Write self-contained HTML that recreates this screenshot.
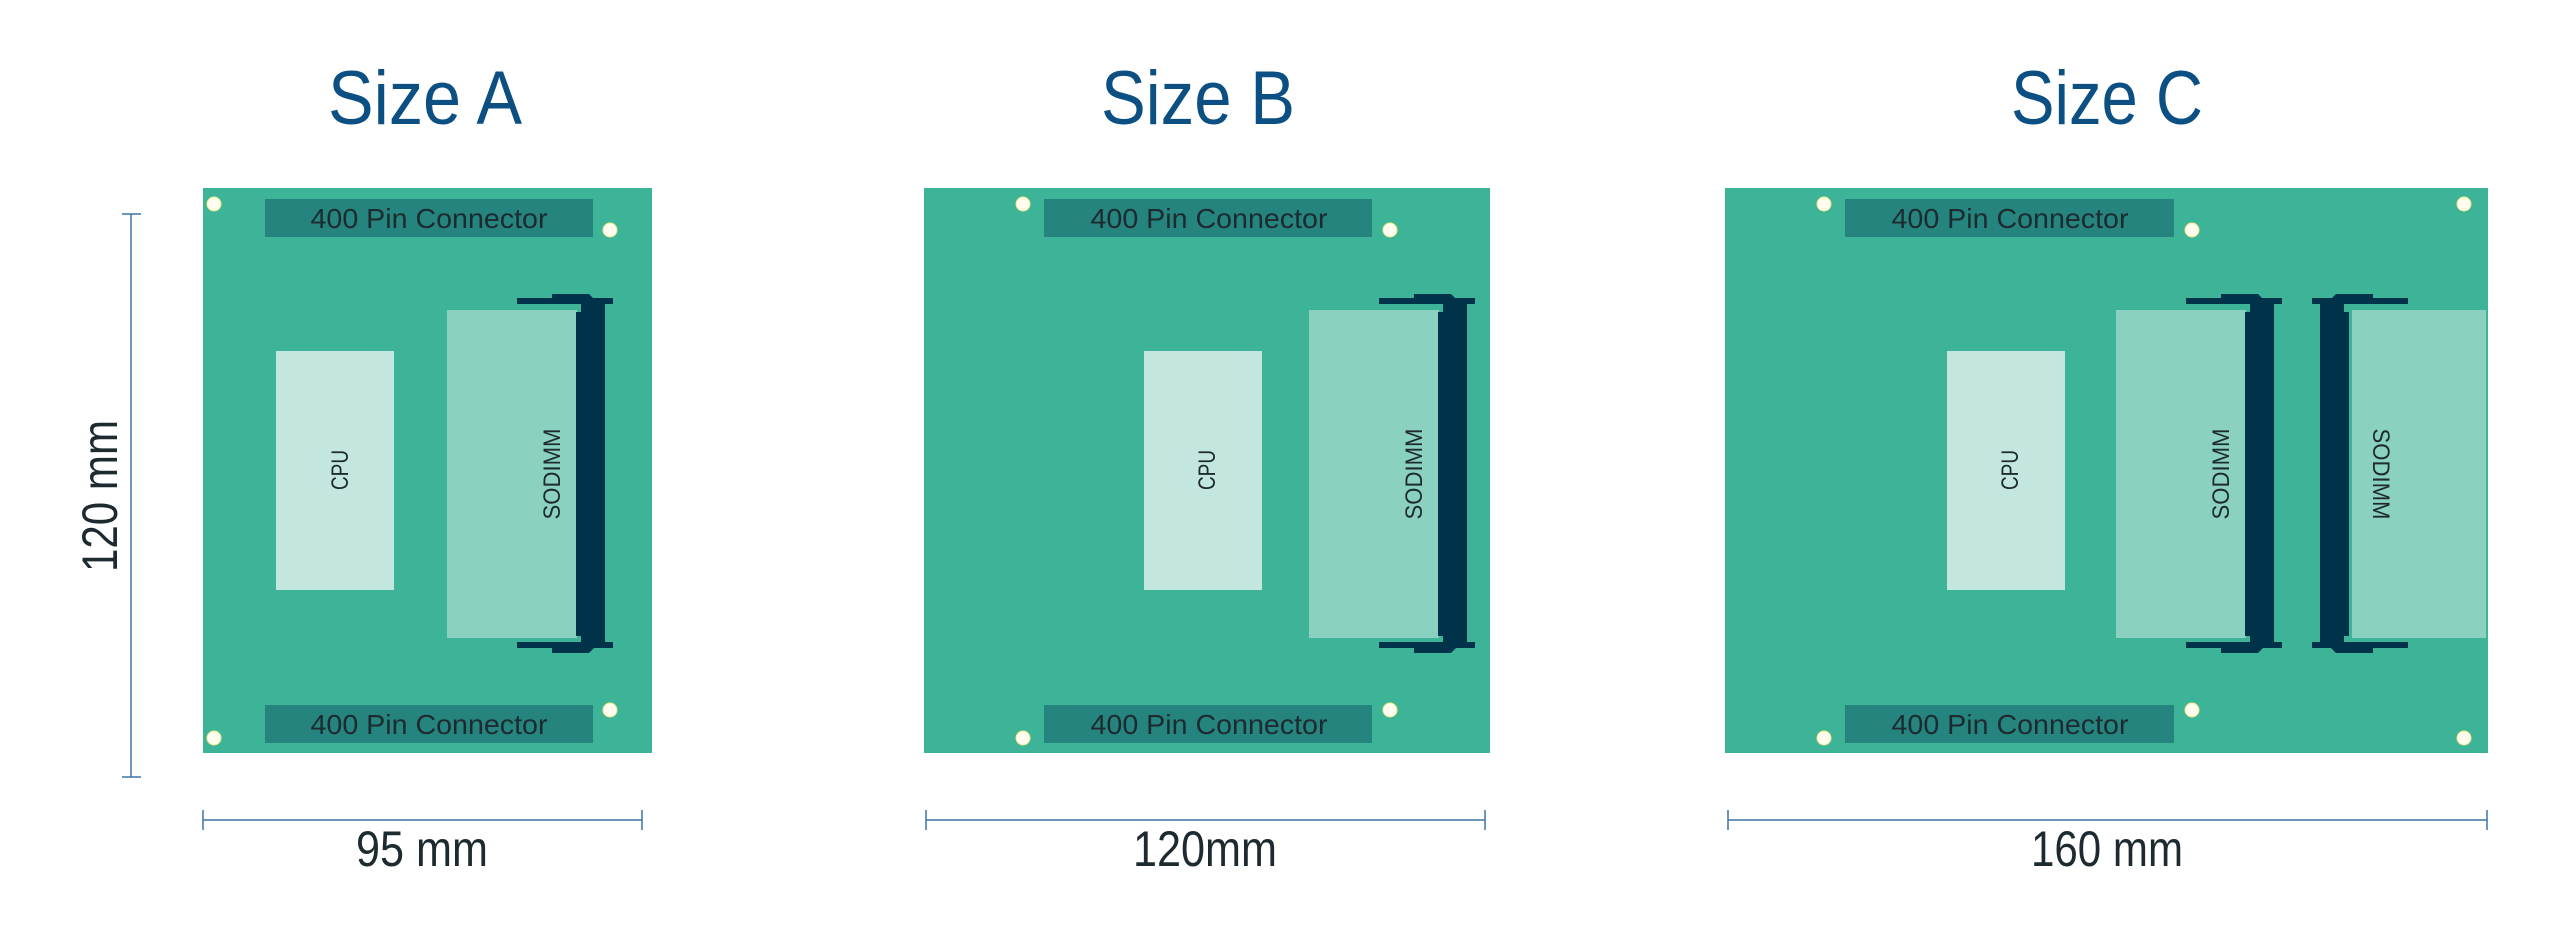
<!DOCTYPE html>
<html><head><meta charset="utf-8"><style>html,body{margin:0;padding:0;background:#fff}svg{display:block}</style></head>
<body>
<svg width="2561" height="941" viewBox="0 0 2561 941" xmlns="http://www.w3.org/2000/svg" font-family="Liberation Sans, sans-serif">
<defs>
<g id="sock">
  <rect x="581" y="298" width="24" height="350" fill="#003349"/>
  <rect x="576" y="312" width="6" height="324" fill="#003349"/>
  <rect x="517" y="298" width="96" height="6" fill="#003349"/>
  <polygon points="552,294 589,294 594,299 594,304 552,304" fill="#003349"/>
  <rect x="517" y="642" width="96" height="6" fill="#003349"/>
  <polygon points="552,642 594,642 594,648 589,653 552,653" fill="#003349"/>
</g>
</defs>
<g fill="#0b4f83" font-size="76">
<text x="425" y="124" text-anchor="middle" textLength="194" lengthAdjust="spacingAndGlyphs">Size A</text>
<text x="1198" y="124" text-anchor="middle" textLength="194" lengthAdjust="spacingAndGlyphs">Size B</text>
<text x="2107" y="124" text-anchor="middle" textLength="192" lengthAdjust="spacingAndGlyphs">Size C</text>
</g>
<rect x="203" y="188" width="449" height="565" fill="#3db497"/>
<rect x="924" y="188" width="566" height="565" fill="#3db497"/>
<rect x="1725" y="188" width="763" height="565" fill="#3db497"/>
<g fill="#25847d">
<rect x="265" y="199" width="328" height="38"/><rect x="265" y="705" width="328" height="38"/>
<rect x="1044" y="199" width="328" height="38"/><rect x="1044" y="705" width="328" height="38"/>
<rect x="1845" y="199" width="329" height="38"/><rect x="1845" y="705" width="329" height="38"/>
</g>
<g fill="#1d2b30" font-size="28" text-anchor="middle">
<text x="429" y="228" textLength="237" lengthAdjust="spacingAndGlyphs">400 Pin Connector</text>
<text x="429" y="734" textLength="237" lengthAdjust="spacingAndGlyphs">400 Pin Connector</text>
<text x="1209" y="228" textLength="237" lengthAdjust="spacingAndGlyphs">400 Pin Connector</text>
<text x="1209" y="734" textLength="237" lengthAdjust="spacingAndGlyphs">400 Pin Connector</text>
<text x="2010" y="228" textLength="237" lengthAdjust="spacingAndGlyphs">400 Pin Connector</text>
<text x="2010" y="734" textLength="237" lengthAdjust="spacingAndGlyphs">400 Pin Connector</text>
</g>
<g fill="#fffdf0" stroke="#f2e88a" stroke-width="1">
<circle cx="214" cy="204" r="7"/><circle cx="610" cy="230" r="7"/><circle cx="610" cy="710" r="7"/><circle cx="214" cy="738" r="7"/>
<circle cx="1023" cy="204" r="7"/><circle cx="1390" cy="230" r="7"/><circle cx="1390" cy="710" r="7"/><circle cx="1023" cy="738" r="7"/>
<circle cx="1824" cy="204" r="7"/><circle cx="2192" cy="230" r="7"/><circle cx="2192" cy="710" r="7"/><circle cx="1824" cy="738" r="7"/>
<circle cx="2464" cy="204" r="7"/><circle cx="2464" cy="738" r="7"/>
</g>
<g fill="#c3e6de">
<rect x="276" y="351" width="118" height="239"/>
<rect x="1144" y="351" width="118" height="239"/>
<rect x="1947" y="351" width="118" height="239"/>
</g>
<g fill="#8ad1c0">
<rect x="447" y="310" width="130" height="328"/>
<rect x="1309" y="310" width="130" height="328"/>
<rect x="2116" y="310" width="130" height="328"/>
<rect x="2352" y="310" width="134" height="328"/>
</g>
<use href="#sock"/>
<use href="#sock" transform="translate(862,0)"/>
<use href="#sock" transform="translate(1669,0)"/>
<use href="#sock" transform="translate(4594,0) scale(-1,1) translate(1669,0)"/>
<g fill="#1d2b30" font-size="24" text-anchor="middle">
<text transform="translate(348,470) rotate(-90)" textLength="40" lengthAdjust="spacingAndGlyphs">CPU</text>
<text transform="translate(1215,470) rotate(-90)" textLength="40" lengthAdjust="spacingAndGlyphs">CPU</text>
<text transform="translate(2018,470) rotate(-90)" textLength="40" lengthAdjust="spacingAndGlyphs">CPU</text>
<text transform="translate(560,474) rotate(-90)" textLength="91" lengthAdjust="spacingAndGlyphs">SODIMM</text>
<text transform="translate(1422,474) rotate(-90)" textLength="91" lengthAdjust="spacingAndGlyphs">SODIMM</text>
<text transform="translate(2229,474) rotate(-90)" textLength="91" lengthAdjust="spacingAndGlyphs">SODIMM</text>
<text transform="translate(2373,474) rotate(90)" textLength="91" lengthAdjust="spacingAndGlyphs">SODIMM</text>
</g>
<g stroke="#3b73a6" stroke-width="1.5" fill="none">
<line x1="131" y1="214" x2="131" y2="777"/><line x1="122" y1="214" x2="141" y2="214"/><line x1="122" y1="777" x2="141" y2="777"/>
<line x1="203" y1="820" x2="642" y2="820"/><line x1="203" y1="810" x2="203" y2="830"/><line x1="642" y1="810" x2="642" y2="830"/>
<line x1="926" y1="820" x2="1485" y2="820"/><line x1="926" y1="810" x2="926" y2="830"/><line x1="1485" y1="810" x2="1485" y2="830"/>
<line x1="1728" y1="820" x2="2487" y2="820"/><line x1="1728" y1="810" x2="1728" y2="830"/><line x1="2487" y1="810" x2="2487" y2="830"/>
</g>
<g fill="#1d2b30" font-size="50" text-anchor="middle">
<text transform="translate(117,496) rotate(-90)" textLength="152" lengthAdjust="spacingAndGlyphs">120 mm</text>
<text x="422" y="866" textLength="132" lengthAdjust="spacingAndGlyphs">95 mm</text>
<text x="1205" y="866" textLength="144" lengthAdjust="spacingAndGlyphs">120mm</text>
<text x="2107" y="866" textLength="152" lengthAdjust="spacingAndGlyphs">160 mm</text>
</g>
</svg>
</body></html>
